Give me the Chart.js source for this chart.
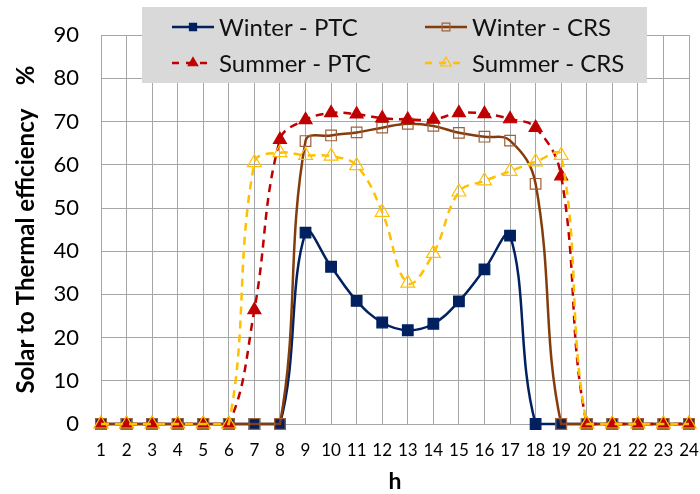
<!DOCTYPE html>
<html>
<head>
<meta charset="utf-8">
<script src="https://cdn.jsdelivr.net/npm/chart.js@4"></script>
<style>
  html, body { margin: 0; padding: 0; background: #fff; }
  #wrap { width: 700px; height: 494px; position: relative; }
</style>
</head>
<body>
<div id="wrap"><canvas id="chart_canvas"></canvas></div>
<script>
// hours of the day
const hours = ['1','2','3','4','5','6','7','8','9','10','11','12','13','14','15','16','17','18','19','20','21','22','23','24']
const winterPTC = [0,0,0,0,0,0,0,0,44.3,36.4,28.5,23.5,21.7,23.2,28.4,35.8,43.6,0,0,0,0,0,0,0]
const winterCRS = [0,0,0,0,0,0,0,0,65.5,66.8,67.5,68.6,69.5,69.0,67.4,66.5,65.6,55.6,0,0,0,0,0,0]
const summerPTC = [0,0,0,0,0,0,26.4,65.8,70.4,72.0,71.7,70.8,70.5,70.5,72.0,71.8,70.6,68.6,57.4,0,0,0,0,0]
const summerCRS = [0,0,0,0,0,0,60.5,62.8,62.2,62.0,59.8,49.0,32.6,39.5,53.7,56.3,58.5,60.7,62.2,0,0,0,0,0]
const yTicks = [0,10,20,30,40,50,60,70,80,90]

const FONT = 'Lato, "Open Sans", sans-serif'

const series = [
    {label:'Winter - PTC', data:winterPTC, color:'#002060', dash:[], style:'rect', fill:'#002060', stroke:'#002060', r:7.5, lr:5, order:4},
    {label:'Winter - CRS', data:winterCRS, color:'#843C0C', dash:[], style:'rect', fill:'rgba(0,0,0,0)', stroke:'#A0603A', r:7.5, lr:5.5, order:3},
    {label:'Summer - PTC', data:summerPTC, color:'#C00000', dash:[8,6], style:'triangle', fill:'#C00000', stroke:'#C00000', r:7.5, lr:5.5, order:2},
    {label:'Summer - CRS', data:summerCRS, color:'#FFC000', dash:[8,6], style:'triangle', fill:'rgba(0,0,0,0)', stroke:'#FFC000', r:8, lr:6, order:1},
]

// legend drawn inside the plot, on a grey box
const boxLegend = {
    id:'boxLegend',
    afterDatasetsDraw(chart){
        const ctx = chart.ctx
        ctx.save()
        ctx.fillStyle = '#D9D9D9'
        ctx.fillRect(142, 7, 505, 76)
        const pos = [[172,27],[425,27],[172,63],[425,63]]
        series.forEach((s, i) => {
            const [x, y] = pos[i]
            ctx.strokeStyle = s.color
            ctx.lineWidth = 2.5
            ctx.setLineDash(s.dash.length ? [7,7] : [])
            ctx.beginPath()
            ctx.moveTo(x, y)
            ctx.lineTo(x + 42, y)
            ctx.stroke()
            ctx.setLineDash([])
            ctx.fillStyle = s.fill
            ctx.strokeStyle = s.stroke
            ctx.lineWidth = 1.2
            Chart.helpers.drawPoint(ctx, {pointStyle:s.style, radius:s.lr, rotation:0, borderWidth:1.2}, x + 21, y)
            ctx.fillStyle = '#111'
            ctx.font = '24px ' + FONT
            ctx.textBaseline = 'middle'
            ctx.textAlign = 'left'
            ctx.fillText(s.label, x + 47, y + 1)
        })
        ctx.restore()
    }
}

const ctx = document.getElementById('chart_canvas').getContext('2d')

const data = {
    labels:hours,
    datasets:series.map(s => ({
        label:s.label,
        data:s.data,
        borderColor:s.color,
        borderWidth:2.5,
        borderDash:s.dash,
        tension:0.4,
        pointStyle:s.style,
        pointRadius:s.r,
        pointBackgroundColor:s.fill,
        pointBorderColor:s.stroke,
        pointBorderWidth:1.2,
        order:s.order,
        clip:false,
        fill:false
    }))
}

const config = {
    type:'line',
    data,
    options:{
        responsive:true,
        maintainAspectRatio:false,
        animation:false,
        layout:{
            padding:{top:22, right:11, left:0, bottom:0}
        },
        scales:{
            x:{
                offset:false,
                grid:{color:'#A6A6A6', drawTicks:false},
                border:{display:false},
                ticks:{color:'#000', font:{family:FONT, size:17}, padding:16, maxRotation:0, autoSkip:false},
                title:{display:true, text:'h', color:'#000', font:{family:FONT, size:23, weight:'bold', lineHeight:1}, padding:{top:0, bottom:1}},
                afterFit:(scale)=>{
                    scale.height = 70
                    scale.paddingLeft = 0
                    scale.paddingRight = 0
                }
            },
            y:{
                min:0,
                max:90,
                afterBuildTicks:(scale)=>{ scale.ticks = yTicks.map(v => ({value:v})) },
                grid:{color:'#A6A6A6', drawTicks:false},
                border:{display:false},
                ticks:{color:'#000', font:{family:FONT, size:22}, padding:22},
                title:{display:true, text:'Solar to Thermal efficiency    %', color:'#000', font:{family:FONT, size:24, weight:'bold'}, padding:{top:12, bottom:0}},
                afterFit:(scale)=>{ scale.width = 101 }
            }
        },
        plugins:{
            legend:{display:false},
            tooltip:{enabled:false}
        }
    },
    plugins:[boxLegend]
}

new Chart(ctx, config)
</script>
</body>
</html>
